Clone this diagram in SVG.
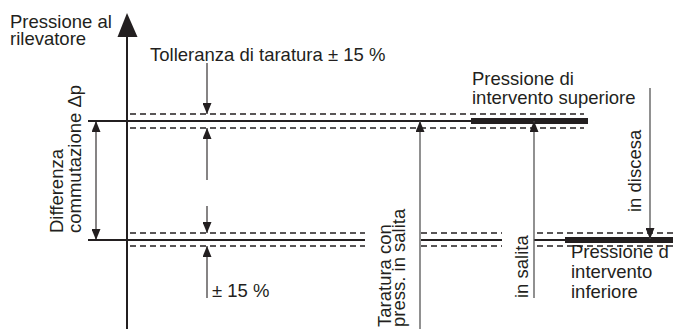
<svg xmlns="http://www.w3.org/2000/svg" width="673" height="329" viewBox="0 0 673 329">
<style>
text{font-family:"Liberation Sans",Arial,sans-serif;font-size:18.5px;fill:#231f20}
.solid{stroke:#231f20;stroke-width:2;fill:none}
.thick{stroke:#231f20;stroke-width:6;fill:none}
.dash{stroke:#231f20;stroke-width:1.3;stroke-dasharray:6 4;fill:none}
.arr{stroke:#231f20;stroke-width:1.1;fill:none;marker-end:url(#ah)}
.arrg{stroke:#555;stroke-width:1.3;fill:none;marker-end:url(#ah)}
</style>
<defs>
<marker id="ah" viewBox="0 0 11 9" refX="11" refY="4.5" markerWidth="11" markerHeight="9" orient="auto-start-reverse" markerUnits="userSpaceOnUse"><path d="M0,0 L11,4.5 L0,9 z" fill="#231f20"/></marker>
</defs>
<g id="axis">
<line x1="127" y1="34" x2="127" y2="329" class="solid"/>
<polygon points="127,13 137.5,37 117.5,37" fill="#231f20"/>
<text x="10" y="28">Pressione al</text>
<text x="10" y="45">rilevatore</text>
</g>
<g id="upper-level">
<line x1="88" y1="121" x2="472" y2="121" class="solid"/>
<line x1="471" y1="121" x2="588" y2="121" class="thick"/>
<line x1="130" y1="114" x2="584" y2="114" class="dash"/>
<line x1="130" y1="128" x2="584" y2="128" class="dash"/>
<text x="472" y="85">Pressione di</text>
<text x="472" y="104">intervento superiore</text>
</g>
<g id="lower-level">
<line x1="88" y1="240" x2="365" y2="240" class="solid"/>
<line x1="421" y1="240" x2="502" y2="240" class="solid"/>
<line x1="534" y1="240" x2="566" y2="240" class="solid"/>
<line x1="565" y1="240" x2="673" y2="240" class="thick"/>
<line x1="130" y1="233" x2="365" y2="233" class="dash"/>
<line x1="130" y1="246" x2="365" y2="246" class="dash"/>
<line x1="421" y1="233" x2="502" y2="233" class="dash"/>
<line x1="421" y1="246" x2="502" y2="246" class="dash"/>
<line x1="537" y1="233" x2="673" y2="233" class="dash"/>
<line x1="537" y1="246" x2="673" y2="246" class="dash"/>
<text x="571" y="258">Pressione d</text>
<text x="571" y="278">intervento</text>
<text x="571" y="298">inferiore</text>
</g>
<g id="tolerance">
<text x="150" y="61">Tolleranza di taratura ± 15 %</text>
<text x="212" y="297">± 15 %</text>
</g>
<g id="differenza">
<text transform="translate(63,233) rotate(-90)">Differenza</text>
<text transform="translate(81,233) rotate(-90)">commutazione Δp</text>
</g>
<g id="taratura">
<text transform="translate(391,327) rotate(-90)">Taratura con</text>
<text transform="translate(405,327) rotate(-90)">press. in salita</text>
</g>
<g id="in-salita">
<text transform="translate(528,298) rotate(-90)">in salita</text>
</g>
<g id="in-discesa">
<text transform="translate(641,212) rotate(-90)">in discesa</text>
</g>
<g id="connectors">
<line x1="207" y1="63" x2="207" y2="114" class="arr"/>
<line x1="207" y1="180" x2="207" y2="128" class="arr"/>
<line x1="207" y1="206" x2="207" y2="233" class="arr"/>
<line x1="207" y1="298" x2="207" y2="246" class="arr"/>
<line x1="96" y1="121" x2="96" y2="240" class="arr" style="marker-start:url(#ah)"/>
<line x1="420" y1="329" x2="420" y2="121" class="arrg"/>
<line x1="534" y1="298" x2="534" y2="121" class="arrg"/>
<line x1="650" y1="88" x2="650" y2="239" class="arrg"/>
</g>
</svg>
